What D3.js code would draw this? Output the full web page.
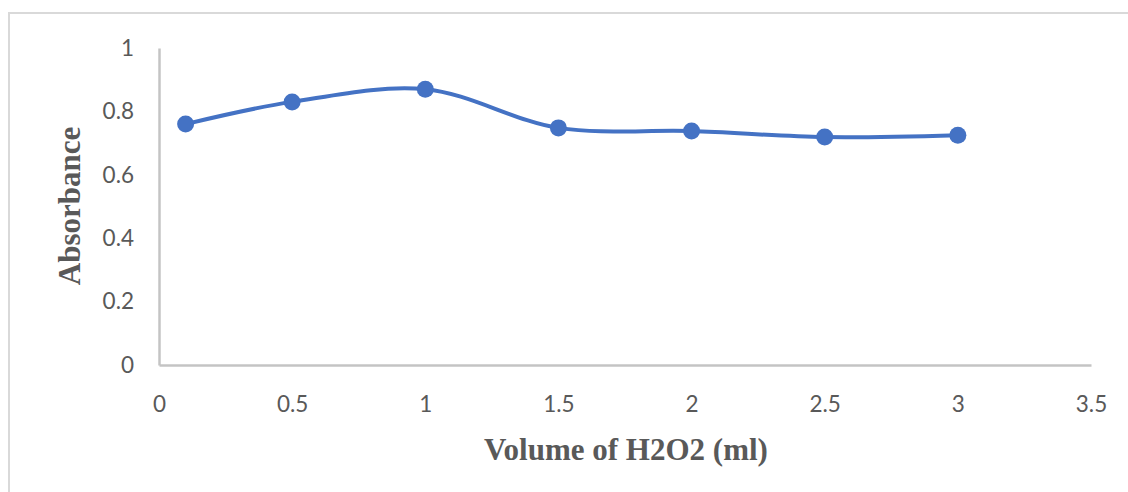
<!DOCTYPE html>
<html>
<head>
<meta charset="utf-8">
<script src="https://cdn.jsdelivr.net/npm/d3@7"></script>
<style>
  html, body { margin: 0; padding: 0; background: #fff; }
  svg { display: block; }
</style>
</head>
<body>
<svg id="chart" width="1128" height="492"></svg>
<script>
// Data
const volumes = [0.1, 0.5, 1, 1.5, 2, 2.5, 3];
const absorbance = [0.760, 0.830, 0.870, 0.748, 0.738, 0.719, 0.725];
const xTicks = [0, 0.5, 1, 1.5, 2, 2.5, 3, 3.5];
const yTicks = [0, 0.2, 0.4, 0.6, 0.8, 1];
const xTitle = "Volume of H2O2 (ml)";
const yTitle = "Absorbance";

const svg = d3.select("#chart");
const W = 1128, H = 492;
const margin = { left: 159, right: 1128 - 1091, top: 48, bottom: 492 - 365 };

const x = d3.scaleLinear().domain([0, 3.5]).range([margin.left, W - margin.right]);
const y = d3.scaleLinear().domain([0, 1]).range([H - margin.bottom, margin.top]);

// outer chart border (top and left visible)
svg.append("path")
  .attr("d", `M9,${H + 5} L9,13 L${W + 5},13`)
  .attr("fill", "none")
  .attr("stroke", "#d9d9d9")
  .attr("stroke-width", 2);

const labelColor = "#595959";
const tickFont = "Lato, 'Noto Sans', sans-serif";

// x axis
const xAxis = svg.append("g")
  .attr("transform", `translate(0,${y(0)})`)
  .call(d3.axisBottom(x).tickValues(xTicks).tickSize(0).tickPadding(30).tickFormat(d3.format("")));
xAxis.select(".domain").attr("stroke", "#c4c4c4").attr("stroke-width", 2.5);
xAxis.selectAll("text")
  .attr("fill", labelColor)
  .style("font-family", tickFont)
  .style("font-size", "22.5px")
  .attr("dy", "0.35em")
  .attr("y", 39);

// y axis
const yAxis = svg.append("g")
  .attr("transform", `translate(${x(0)},0)`)
  .call(d3.axisLeft(y).tickValues(yTicks).tickSize(0).tickPadding(25).tickFormat(d3.format("")));
yAxis.select(".domain").attr("stroke", "#c4c4c4").attr("stroke-width", 2.5);
yAxis.selectAll("text")
  .attr("fill", labelColor)
  .style("font-family", tickFont)
  .style("font-size", "22.5px");

// axis titles
svg.append("text")
  .attr("x", 626)
  .attr("y", 460)
  .attr("text-anchor", "middle")
  .attr("fill", labelColor)
  .style("font-family", "'Liberation Serif', 'DejaVu Serif', serif")
  .style("font-weight", "bold")
  .style("font-size", "31px")
  .text(xTitle);

svg.append("text")
  .attr("transform", `translate(80,206) rotate(-90)`)
  .attr("text-anchor", "middle")
  .attr("fill", labelColor)
  .style("font-family", "'Liberation Serif', 'DejaVu Serif', serif")
  .style("font-weight", "bold")
  .style("font-size", "31px")
  .text(yTitle);

// line
const data = volumes.map((v, i) => ({ v, a: absorbance[i] }));
const line = d3.line()
  .x(d => x(d.v))
  .y(d => y(d.a))
  .curve(d3.curveCatmullRom.alpha(0.5));

svg.append("path")
  .datum(data)
  .attr("d", line)
  .attr("fill", "none")
  .attr("stroke", "#4472C4")
  .attr("stroke-width", 4)
  .attr("stroke-linecap", "round");

svg.selectAll("circle.pt")
  .data(data)
  .join("circle")
  .attr("class", "pt")
  .attr("cx", d => x(d.v))
  .attr("cy", d => y(d.a))
  .attr("r", 8.5)
  .attr("fill", "#4472C4");
</script>
</body>
</html>
